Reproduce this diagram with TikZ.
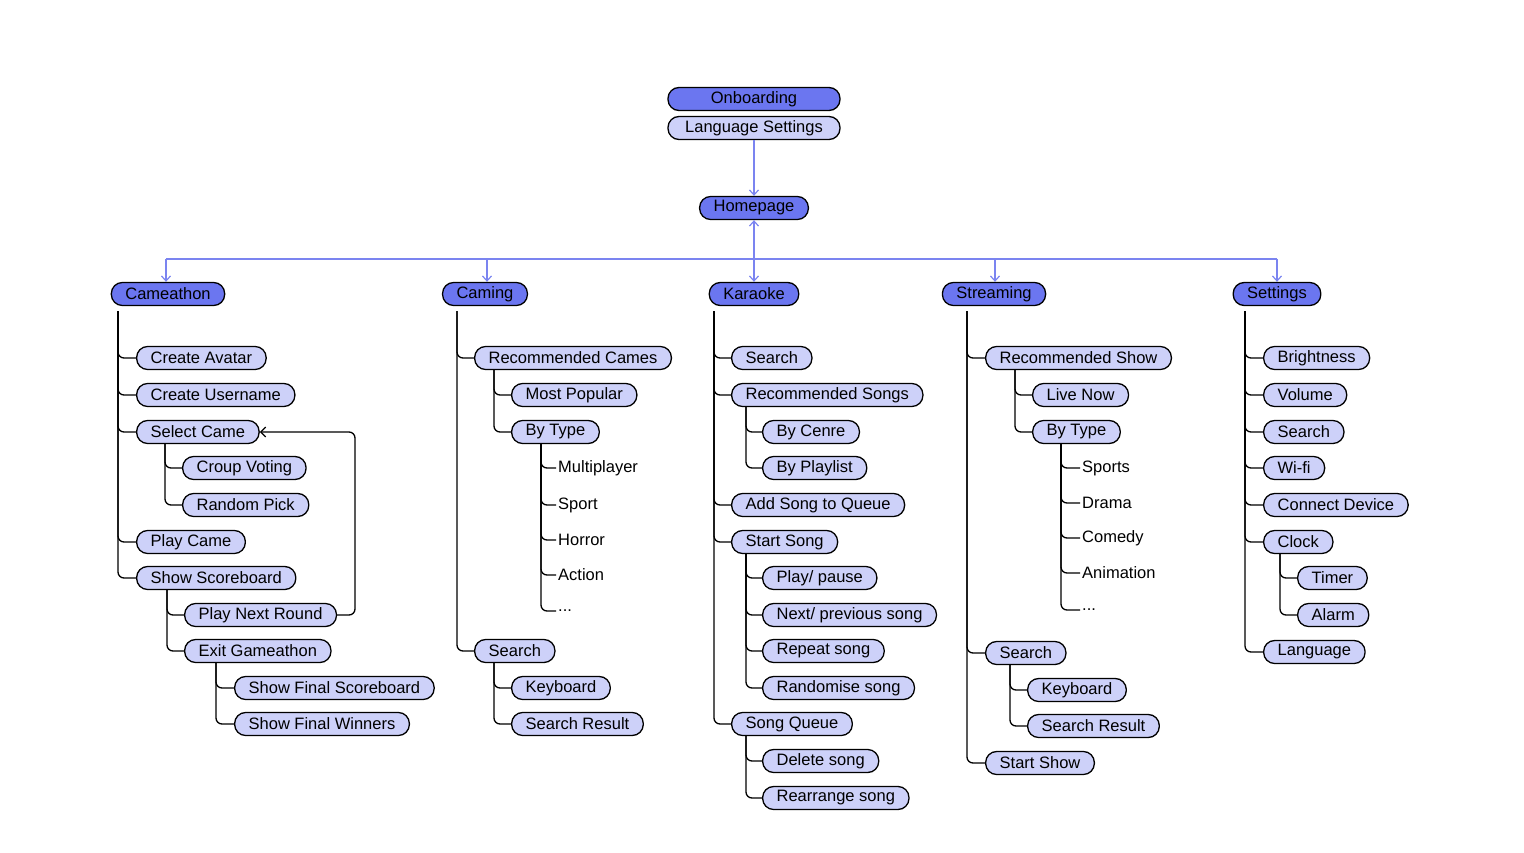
\documentclass[tikz,border=0pt]{standalone}
\usepackage{fontspec}
\setmainfont{Liberation Sans}
\usetikzlibrary{arrows.meta}
\definecolor{dk}{HTML}{6B76F0}
\definecolor{lt}{HTML}{CDD1F9}
\definecolor{ln}{HTML}{7B84F0}
\begin{document}
\begin{tikzpicture}[x=1pt,y=-1pt,
  pill/.style={draw=black,line width=1.3pt,rounded corners=11pt,minimum height=23pt,inner xsep=14pt,inner ysep=0pt,font=\fontsize{16.5}{18}\selectfont},
  dkp/.style={pill,fill=dk},
  ltp/.style={pill,fill=lt},
  L/.style={ltp,anchor=west},
  T/.style={anchor=west,inner xsep=2pt,font=\fontsize{16.5}{18}\selectfont},
  tr/.style={line width=1.3pt,rounded corners=6pt},
  ar/.style={draw=ln,line width=1.2pt,-{Straight Barb[length=5pt,width=9pt]}}]
\useasboundingbox (0,0) rectangle (1524,853);
% top
\node[dkp,minimum width=172pt] (onb) at (754,99) {Onboarding};
\node[ltp,minimum width=172pt] (lang) at (754,128) {Language Settings};
\node[dkp] (home) at (754,208) {Homepage};
\node[dkp] (gm) at (168,294) {Cameathon};
\node[dkp] (ga) at (485,294) {Caming};
\node[dkp] (ka) at (754,294) {Karaoke};
\node[dkp] (st) at (994,294) {Streaming};
\node[dkp] (se) at (1277,294) {Settings};
\draw[ar] (lang) -- (home);
\coordinate (hb) at (754,259);
\draw[ar] (hb) -- (home.south);
\draw[draw=ln,line width=1.2pt] (166,259) -- (1277,259);
\coordinate (g1) at (166,259);\coordinate (g2) at (487,259);\coordinate (g4) at (995,259);\coordinate (g5) at (1277,259);
\draw[ar] (g1) -- (gm.north -| g1);
\draw[ar] (g2) -- (ga.north -| g2);
\draw[ar] (hb) -- (ka.north);
\draw[ar] (g4) -- (st.north -| g4);
\draw[ar] (g5) -- (se.north -| g5);
% Gameathon
\node[L] (ca) at (136,358) {Create Avatar};
\node[L] (cu) at (136,395) {Create Username};
\node[L] (sg) at (136,432) {Select Came};
\node[L] (gv) at (182,468) {Croup Voting};
\node[L] (rp) at (182,505) {Random Pick};
\node[L] (pg) at (136,542) {Play Came};
\node[L] (ss) at (136,578) {Show Scoreboard};
\node[L] (pn) at (184,615) {Play Next Round};
\node[L] (eg) at (184,651) {Exit Gameathon};
\node[L] (fs) at (234,688) {Show Final Scoreboard};
\node[L] (fw) at (234,724) {Show Final Winners};
\coordinate (gmT) at (118,311);
\foreach \n in {ca,cu,sg,pg,ss} \draw[tr] (gmT) |- (\n.west);
\coordinate (sgT) at (165,444);
\foreach \n in {gv,rp} \draw[tr] (sgT) |- (\n.west);
\coordinate (ssT) at (167,590);
\foreach \n in {pn,eg} \draw[tr] (ssT) |- (\n.west);
\coordinate (egT) at (216,663);
\foreach \n in {fs,fw} \draw[tr] (egT) |- (\n.west);
\coordinate (lp) at (355,615);
\draw[tr,-{Straight Barb[length=5pt,width=10pt]}] (pn.east) -- (lp) |- (sg.east);
% Gaming
\node[L] (rg) at (474,358) {Recommended Cames};
\node[L] (mp) at (511,395) {Most Popular};
\node[L] (bt) at (511,432) {By Type};
\node[T] (t1) at (556,468) {Multiplayer};
\node[T] (t2) at (556,505) {Sport};
\node[T] (t3) at (556,540) {Horror};
\node[T] (t4) at (556,575) {Action};
\node[T] (t5) at (556,611) {...};
\node[L] (gs) at (474,651) {Search};
\node[L] (gk) at (511,688) {Keyboard};
\node[L] (gr) at (511,724) {Search Result};
\coordinate (gaT) at (457,311);
\foreach \n in {rg,gs} \draw[tr] (gaT) |- (\n.west);
\coordinate (rgT) at (494,370);
\foreach \n in {mp,bt} \draw[tr] (rgT) |- (\n.west);
\coordinate (btT) at (541,444);
\foreach \n in {t1,t2,t3,t4,t5} \draw[tr] (btT) |- (\n.west);
\coordinate (gsT) at (494,663);
\foreach \n in {gk,gr} \draw[tr] (gsT) |- (\n.west);
% Karaoke
\node[L] (ks) at (731,358) {Search};
\node[L] (rs) at (731,395) {Recommended Songs};
\node[L] (bg) at (762,432) {By Cenre};
\node[L] (bp) at (762,468) {By Playlist};
\node[L] (aq) at (731,505) {Add Song to Queue};
\node[L] (ssg) at (731,542) {Start Song};
\node[L] (pp) at (762,578) {Play/ pause};
\node[L] (np) at (762,615) {Next/ previous song};
\node[L] (rps) at (762,651) {Repeat song};
\node[L] (rds) at (762,688) {Randomise song};
\node[L] (sq) at (731,724) {Song Queue};
\node[L] (ds) at (762,761) {Delete song};
\node[L] (rr) at (762,798) {Rearrange song};
\coordinate (kaT) at (714,311);
\foreach \n in {ks,rs,aq,ssg,sq} \draw[tr] (kaT) |- (\n.west);
\coordinate (rsT) at (746,407);
\foreach \n in {bg,bp} \draw[tr] (rsT) |- (\n.west);
\coordinate (ssgT) at (746,554);
\foreach \n in {pp,np,rps,rds} \draw[tr] (ssgT) |- (\n.west);
\coordinate (sqT) at (746,736);
\foreach \n in {ds,rr} \draw[tr] (sqT) |- (\n.west);
% Streaming
\node[L] (rsh) at (985,358) {Recommended Show};
\node[L] (ln) at (1032,395) {Live Now};
\node[L] (sbt) at (1032,432) {By Type};
\node[T] (u1) at (1080,468) {Sports};
\node[T] (u2) at (1080,503) {Drama};
\node[T] (u3) at (1080,538) {Comedy};
\node[T] (u4) at (1080,573) {Animation};
\node[T] (u5) at (1080,610) {...};
\node[L] (sts) at (985,653) {Search};
\node[L] (sk) at (1027,690) {Keyboard};
\node[L] (sr) at (1027,726) {Search Result};
\node[L] (ssh) at (985,763) {Start Show};
\coordinate (stT) at (967,311);
\foreach \n in {rsh,sts,ssh} \draw[tr] (stT) |- (\n.west);
\coordinate (rshT) at (1015,370);
\foreach \n in {ln,sbt} \draw[tr] (rshT) |- (\n.west);
\coordinate (sbtT) at (1061,444);
\foreach \n in {u1,u2,u3,u4,u5} \draw[tr] (sbtT) |- (\n.west);
\coordinate (stsT) at (1010,665);
\foreach \n in {sk,sr} \draw[tr] (stsT) |- (\n.west);
% Settings
\node[L] (br) at (1263,358) {Brightness};
\node[L] (vo) at (1263,395) {Volume};
\node[L] (sse) at (1263,432) {Search};
\node[L] (wf) at (1263,468) {Wi-fi};
\node[L] (cd) at (1263,505) {Connect Device};
\node[L] (cl) at (1263,542) {Clock};
\node[L] (ti) at (1297,578) {Timer};
\node[L] (al) at (1297,615) {Alarm};
\node[L] (la) at (1263,652) {Language};
\coordinate (seT) at (1245,311);
\foreach \n in {br,vo,sse,wf,cd,cl,la} \draw[tr] (seT) |- (\n.west);
\coordinate (clT) at (1280,554);
\foreach \n in {ti,al} \draw[tr] (clT) |- (\n.west);
\end{tikzpicture}
\end{document}
